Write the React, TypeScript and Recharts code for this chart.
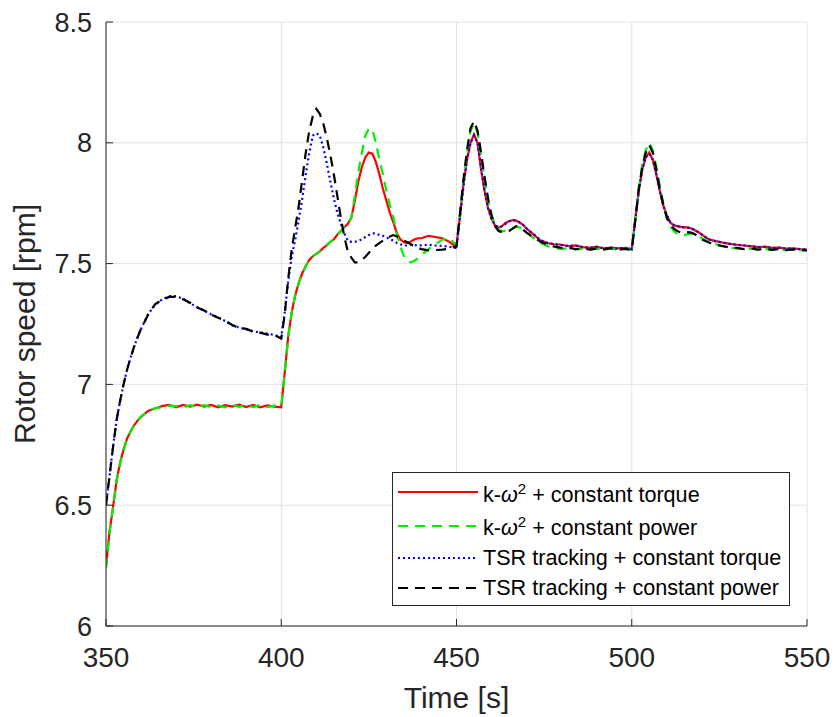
import { LineChart, Line, XAxis, YAxis, CartesianGrid, Legend } from 'recharts';

const FONT = '"Liberation Sans", Arial, Helvetica, sans-serif';
const AXIS = '#262626';

// time [s]
const time = [
  350, 351, 352, 353, 354, 355, 356, 357, 358, 359, 360,
  362, 364, 366, 368, 370, 372, 374, 376, 378, 380, 382, 384, 386, 388, 390, 392, 394, 396, 398,
  400, 401, 402, 403, 404, 405, 406, 407, 408, 409, 410, 411, 412, 413, 414, 415, 416, 417, 418, 419,
  420, 421, 422, 423, 424, 425, 426, 427, 428, 429, 430, 431, 432, 433, 434, 435, 436, 437, 438, 439, 440,
  442, 444, 446, 448,
  449, 450, 451, 452, 453, 454, 455, 456, 457, 458, 459, 460, 461, 462, 463, 464, 465, 466, 467, 468, 469, 470,
  472, 474, 476, 478, 480, 482, 484, 486, 488, 490, 492, 494, 496, 498, 500,
  501, 502, 503, 504, 505, 506, 507, 508, 509, 510, 511, 512, 513, 514, 515, 516, 517, 518, 519, 520,
  522, 524, 526, 528, 530, 532, 534, 536, 538, 540, 542, 544, 546, 548, 550,
];

// rotor speed [rpm]
const kOmegaTorque = [
  6.245, 6.39, 6.49, 6.6, 6.675, 6.73, 6.775, 6.805, 6.83, 6.85, 6.865,
  6.89, 6.9, 6.91, 6.915, 6.905, 6.915, 6.908, 6.916, 6.908, 6.915, 6.905, 6.914, 6.908, 6.916, 6.906, 6.915, 6.905, 6.913, 6.908,
  6.905, 7.05, 7.2, 7.3, 7.37, 7.42, 7.46, 7.49, 7.515, 7.53, 7.54, 7.55, 7.565, 7.575, 7.59, 7.6, 7.62, 7.635, 7.65, 7.665,
  7.69, 7.76, 7.84, 7.9, 7.94, 7.96, 7.955, 7.92, 7.87, 7.81, 7.76, 7.71, 7.67, 7.625, 7.6, 7.588, 7.585, 7.592, 7.6, 7.605, 7.605,
  7.615, 7.61, 7.605, 7.59,
  7.578, 7.575, 7.7, 7.83, 7.93, 8.0, 8.035, 8.0, 7.89, 7.8, 7.73, 7.685, 7.658, 7.648, 7.655, 7.668, 7.675, 7.68, 7.678, 7.67, 7.66, 7.645,
  7.62, 7.595, 7.585, 7.58, 7.578, 7.572, 7.575, 7.568, 7.565, 7.57, 7.563, 7.566, 7.563, 7.565, 7.56,
  7.68, 7.8, 7.89, 7.94, 7.96, 7.93, 7.87, 7.8, 7.74, 7.7, 7.67, 7.658, 7.655, 7.652, 7.65, 7.65, 7.645, 7.638, 7.63, 7.62,
  7.6, 7.593, 7.587, 7.582, 7.578, 7.575, 7.572, 7.568, 7.57, 7.565, 7.566, 7.562, 7.563, 7.56, 7.558,
];

const kOmegaPower = [
  6.24, 6.385, 6.49, 6.6, 6.67, 6.73, 6.77, 6.805, 6.83, 6.85, 6.868,
  6.888, 6.902, 6.905, 6.912, 6.91, 6.905, 6.914, 6.906, 6.914, 6.906, 6.913, 6.905, 6.915, 6.907, 6.914, 6.906, 6.915, 6.906, 6.912,
  6.91, 7.05, 7.2, 7.3, 7.37, 7.42, 7.46, 7.49, 7.515, 7.53, 7.54, 7.55, 7.565, 7.578, 7.59, 7.6, 7.618, 7.635, 7.65, 7.665,
  7.69, 7.78, 7.88, 7.96, 8.03, 8.06, 8.055, 8.0, 7.93, 7.87, 7.8, 7.74, 7.69, 7.62, 7.57, 7.53, 7.51, 7.505, 7.512, 7.522, 7.535,
  7.56, 7.58, 7.6, 7.605,
  7.59, 7.575, 7.7, 7.84, 7.96, 8.05, 8.08, 8.04, 7.95, 7.85, 7.76, 7.7, 7.66, 7.64, 7.635, 7.635, 7.637, 7.645, 7.652, 7.65, 7.64, 7.63,
  7.605, 7.585, 7.572, 7.565, 7.56, 7.565, 7.558, 7.562, 7.556, 7.562, 7.558, 7.563, 7.557, 7.562, 7.558,
  7.68, 7.81, 7.91, 7.97, 8.0, 7.97, 7.9, 7.82, 7.75, 7.69, 7.655, 7.635, 7.622, 7.618, 7.618, 7.622, 7.625, 7.624, 7.615, 7.605,
  7.59, 7.58, 7.572, 7.566, 7.563, 7.56, 7.562, 7.558, 7.561, 7.557, 7.56, 7.556, 7.559, 7.556, 7.555,
];

const tsrTorque = [
  6.5, 6.62, 6.74, 6.85, 6.93, 7.0, 7.06, 7.11, 7.155, 7.195, 7.23,
  7.29, 7.33, 7.352, 7.365, 7.365, 7.355, 7.335, 7.32, 7.305, 7.29, 7.278, 7.262, 7.245, 7.235, 7.228, 7.22, 7.215, 7.21, 7.205,
  7.195, 7.3, 7.43, 7.53, 7.6, 7.68, 7.77, 7.87, 7.96, 8.03, 8.04, 8.03, 7.98, 7.915, 7.84, 7.77, 7.71, 7.665, 7.625, 7.595,
  7.59, 7.59, 7.595, 7.6, 7.61, 7.618, 7.625, 7.625, 7.618, 7.615, 7.61, 7.6, 7.595, 7.585, 7.58, 7.575, 7.575, 7.578, 7.575, 7.578, 7.575,
  7.578, 7.575, 7.573, 7.57,
  7.565, 7.565, 7.69, 7.82, 7.93, 8.0, 8.03, 8.0, 7.9, 7.8, 7.73, 7.685, 7.66, 7.65, 7.655, 7.665, 7.675, 7.68, 7.678, 7.67, 7.66, 7.645,
  7.622, 7.597, 7.585, 7.58, 7.577, 7.573, 7.574, 7.568, 7.566, 7.569, 7.563, 7.566, 7.562, 7.565, 7.56,
  7.68, 7.8, 7.89, 7.94, 7.955, 7.93, 7.87, 7.8, 7.74, 7.7, 7.672, 7.66, 7.655, 7.652, 7.65, 7.648, 7.645, 7.64, 7.63, 7.62,
  7.6, 7.592, 7.587, 7.582, 7.578, 7.575, 7.571, 7.568, 7.569, 7.565, 7.566, 7.562, 7.562, 7.56, 7.558,
];

const tsrPower = [
  6.5, 6.62, 6.74, 6.85, 6.93, 7.0, 7.06, 7.11, 7.155, 7.195, 7.23,
  7.288, 7.332, 7.35, 7.362, 7.362, 7.352, 7.338, 7.318, 7.306, 7.288, 7.276, 7.264, 7.246, 7.234, 7.23, 7.218, 7.214, 7.206, 7.204,
  7.19, 7.29, 7.44, 7.56, 7.65, 7.74, 7.85, 7.96, 8.05, 8.11, 8.14, 8.12, 8.08, 8.02, 7.95, 7.87, 7.78, 7.69, 7.61, 7.55,
  7.525, 7.505, 7.505, 7.515, 7.528, 7.545, 7.56, 7.575, 7.585, 7.595, 7.605, 7.612, 7.618, 7.612, 7.603, 7.595, 7.588, 7.58, 7.572, 7.565, 7.56,
  7.555, 7.556, 7.558, 7.562,
  7.567, 7.57, 7.71, 7.85, 7.97, 8.06, 8.09, 8.05, 7.96, 7.86, 7.77, 7.7, 7.655, 7.635, 7.63, 7.63, 7.635, 7.645, 7.655, 7.65, 7.64, 7.628,
  7.608, 7.59, 7.578, 7.57, 7.565, 7.566, 7.56, 7.563, 7.558, 7.562, 7.558, 7.564, 7.557, 7.561, 7.557,
  7.68, 7.81, 7.9, 7.96, 7.99, 7.96, 7.89, 7.81, 7.745, 7.69, 7.66, 7.645, 7.635, 7.628, 7.628, 7.63, 7.628, 7.622, 7.612, 7.6,
  7.587, 7.578, 7.572, 7.567, 7.565, 7.56, 7.563, 7.558, 7.561, 7.557, 7.56, 7.556, 7.559, 7.556, 7.555,
];

const xTicks = [350, 400, 450, 500, 550];
const yTicks = [6, 6.5, 7, 7.5, 8, 8.5];

const data = time.map((t, i) => ({
  t,
  kTorque: kOmegaTorque[i],
  kPower: kOmegaPower[i],
  tsrTorque: tsrTorque[i],
  tsrPower: tsrPower[i],
}));

const kw = (
  <>
    k-<span style={{ fontStyle: 'italic' }}>ω</span>
    <sup style={{ fontSize: 15 }}>2</sup>
  </>
);

const SERIES = [
  { key: 'kTorque', color: '#ff0000', dash: undefined, label: <>{kw} + constant torque</> },
  { key: 'kPower', color: '#00ee00', dash: '10 7', label: <>{kw} + constant power</> },
  { key: 'tsrTorque', color: '#0000ff', dash: '2 3', label: <>TSR tracking + constant torque</> },
  { key: 'tsrPower', color: '#000000', dash: '10 7', label: <>TSR tracking + constant power</> },
];

const ROW_H = [34, 33, 31, 29];

function LegendBox() {
  return (
    <div
      style={{
        border: `1px solid ${AXIS}`,
        background: '#fff',
        padding: '2px 8px 3px 5px',
        fontFamily: FONT,
        fontSize: 21.6,
        color: '#000',
      }}
    >
      {SERIES.map((s, i) => (
        <div key={s.key} style={{ display: 'flex', alignItems: 'center', height: ROW_H[i] }}>
          <svg width={80} height={10} style={{ flex: 'none' }}>
            <line x1={0} y1={5} x2={80} y2={5} stroke={s.color} strokeWidth={2.2} strokeDasharray={s.dash} />
          </svg>
          <span style={{ marginLeft: 5, whiteSpace: 'nowrap', lineHeight: '24px' }}>{s.label}</span>
        </div>
      ))}
    </div>
  );
}

export default function App() {
  return (
    <div style={{ position: 'absolute', left: 0, top: 0, background: '#fff' }}>
      <LineChart width={835} height={717} data={data} margin={{ top: 22, right: 28, bottom: 6, left: 6 }}>
        <CartesianGrid stroke="#e3e3e3" strokeWidth={1} />
        <XAxis
          dataKey="t"
          type="number"
          domain={[350, 550]}
          ticks={xTicks}
          interval={0}
          allowDataOverflow
          height={85}
          tickSize={-7}
          tickMargin={28}
          axisLine={{ stroke: AXIS }}
          tickLine={{ stroke: AXIS }}
          tick={{ fill: AXIS, fontSize: 28, fontFamily: FONT }}
          label={{ value: 'Time [s]', position: 'insideBottom', offset: 3, fill: AXIS, fontSize: 30, fontFamily: FONT }}
        />
        <XAxis
          xAxisId="top"
          dataKey="t"
          type="number"
          orientation="top"
          domain={[350, 550]}
          ticks={xTicks}
          interval={0}
          allowDataOverflow
          height={0}
          tickSize={-7}
          axisLine={{ stroke: AXIS }}
          tickLine={{ stroke: AXIS }}
          tickFormatter={() => ''}
        />
        <YAxis
          type="number"
          domain={[6, 8.5]}
          ticks={yTicks}
          interval={0}
          allowDataOverflow
          width={100}
          tickSize={-7}
          tickMargin={21}
          axisLine={{ stroke: AXIS }}
          tickLine={{ stroke: AXIS }}
          tick={{ fill: AXIS, fontSize: 27, fontFamily: FONT }}
          label={{
            value: 'Rotor speed [rpm]',
            angle: -90,
            position: 'insideLeft',
            offset: 18,
            fill: AXIS,
            fontSize: 30,
            fontFamily: FONT,
            style: { textAnchor: 'middle' },
          }}
        />
        <YAxis
          yAxisId="right"
          type="number"
          orientation="right"
          domain={[6, 8.5]}
          ticks={yTicks}
          interval={0}
          allowDataOverflow
          width={0}
          tickSize={-7}
          axisLine={{ stroke: AXIS }}
          tickLine={{ stroke: AXIS }}
          tickFormatter={() => ''}
        />
        {SERIES.map((s) => (
          <Line
            key={s.key}
            dataKey={s.key}
            type="linear"
            stroke={s.color}
            strokeWidth={2.2}
            strokeDasharray={s.dash}
            dot={false}
            activeDot={false}
            isAnimationActive={false}
          />
        ))}
        <Legend
          layout="vertical"
          align="center"
          verticalAlign="middle"
          content={() => <LegendBox />}
          wrapperStyle={{ left: 392, top: 472, width: 'auto', height: 'auto' }}
        />
      </LineChart>
    </div>
  );
}
